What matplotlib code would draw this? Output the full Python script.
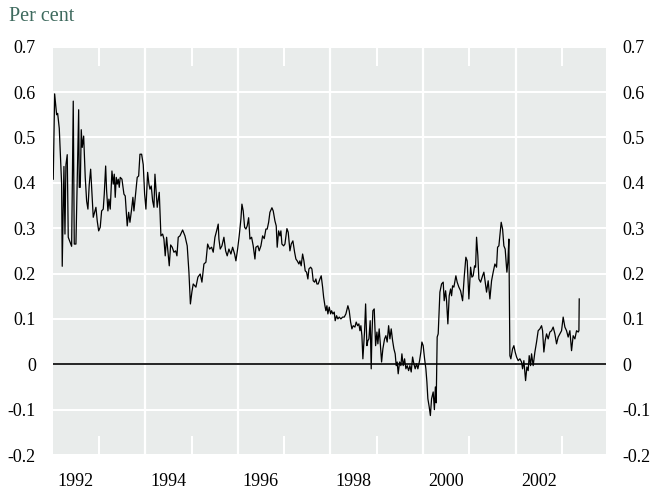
import numpy as np
import matplotlib
matplotlib.use('Agg')
import matplotlib.pyplot as plt

plt.rcParams['font.family'] = ['Liberation Serif', 'DejaVu Serif']

# spread, per cent (time in decimal years)
t = [1992.013, 1992.043, 1992.086, 1992.108, 1992.143, 1992.194, 1992.207, 1992.244, 1992.266, 1992.287,
     1992.315, 1992.337, 1992.374, 1992.410, 1992.445, 1992.467, 1992.503, 1992.562, 1992.575, 1992.596,
     1992.618, 1992.639, 1992.670, 1992.704, 1992.734, 1992.762, 1992.791, 1992.821, 1992.849, 1992.877,
     1992.907, 1992.935, 1992.963, 1992.994, 1993.028, 1993.058, 1993.093, 1993.115, 1993.145, 1993.166,
     1993.194, 1993.216, 1993.244, 1993.281, 1993.309, 1993.331, 1993.352, 1993.374, 1993.395, 1993.417,
     1993.439, 1993.460, 1993.497, 1993.540, 1993.568, 1993.611, 1993.642, 1993.670, 1993.706, 1993.734,
     1993.756, 1993.784, 1993.827, 1993.858, 1993.886, 1993.922, 1993.957, 1993.987, 1994.015, 1994.052,
     1994.080, 1994.102, 1994.130, 1994.160, 1994.188, 1994.210, 1994.259, 1994.303, 1994.339, 1994.376,
     1994.404, 1994.432, 1994.462, 1994.490, 1994.519, 1994.549, 1994.583, 1994.620, 1994.657, 1994.685,
     1994.713, 1994.750, 1994.808, 1994.858, 1994.907, 1994.944, 1994.976, 1995.009, 1995.037, 1995.095,
     1995.138, 1995.188, 1995.225, 1995.268, 1995.311, 1995.348, 1995.391, 1995.434, 1995.469, 1995.506,
     1995.542, 1995.577, 1995.592, 1995.620, 1995.657, 1995.700, 1995.737, 1995.771, 1995.808, 1995.851,
     1995.888, 1995.931, 1995.959, 1995.996, 1996.030, 1996.067, 1996.089, 1996.117, 1996.147, 1996.175,
     1996.203, 1996.234, 1996.262, 1996.298, 1996.333, 1996.370, 1996.391, 1996.434, 1996.462, 1996.499,
     1996.536, 1996.571, 1996.607, 1996.635, 1996.666, 1996.694, 1996.737, 1996.765, 1996.802, 1996.830,
     1996.851, 1996.882, 1996.910, 1996.931, 1996.953, 1996.990, 1997.018, 1997.061, 1997.089, 1997.126,
     1997.154, 1997.190, 1997.227, 1997.255, 1997.283, 1997.320, 1997.342, 1997.369, 1997.400, 1997.428,
     1997.456, 1997.486, 1997.514, 1997.536, 1997.573, 1997.601, 1997.629, 1997.659, 1997.687, 1997.709,
     1997.737, 1997.774, 1997.802, 1997.832, 1997.854, 1997.882, 1997.903, 1997.925, 1997.946, 1997.975,
     1998.005, 1998.026, 1998.054, 1998.083, 1998.104, 1998.134, 1998.162, 1998.191, 1998.227, 1998.264,
     1998.299, 1998.335, 1998.378, 1998.407, 1998.437, 1998.465, 1998.493, 1998.530, 1998.558, 1998.588,
     1998.616, 1998.638, 1998.659, 1998.681, 1998.702, 1998.739, 1998.761, 1998.789, 1998.810, 1998.832,
     1998.860, 1998.882, 1998.897, 1998.918, 1998.947, 1998.977, 1999.005, 1999.026, 1999.054, 1999.076,
     1999.106, 1999.134, 1999.171, 1999.199, 1999.227, 1999.258, 1999.286, 1999.314, 1999.344, 1999.372,
     1999.400, 1999.422, 1999.443, 1999.465, 1999.495, 1999.523, 1999.545, 1999.573, 1999.603, 1999.631,
     1999.659, 1999.690, 1999.718, 1999.746, 1999.776, 1999.804, 1999.832, 1999.862, 1999.890, 1999.927,
     1999.955, 1999.977, 2000.005, 2000.035, 2000.063, 2000.085, 2000.106, 2000.135, 2000.160, 2000.186,
     2000.221, 2000.247, 2000.268, 2000.286, 2000.307, 2000.329, 2000.366, 2000.402, 2000.437, 2000.459,
     2000.489, 2000.510, 2000.538, 2000.567, 2000.597, 2000.618, 2000.640, 2000.668, 2000.711, 2000.739,
     2000.776, 2000.813, 2000.856, 2000.891, 2000.927, 2000.955, 2000.992, 2001.029, 2001.057, 2001.085,
     2001.115, 2001.137, 2001.158, 2001.186, 2001.208, 2001.245, 2001.288, 2001.316, 2001.344, 2001.374,
     2001.409, 2001.446, 2001.482, 2001.517, 2001.554, 2001.590, 2001.612, 2001.640, 2001.668, 2001.690,
     2001.720, 2001.748, 2001.776, 2001.791, 2001.813, 2001.834, 2001.856, 2001.878, 2001.899, 2001.936,
     2001.964, 2001.992, 2002.022, 2002.057, 2002.094, 2002.130, 2002.152, 2002.180, 2002.202, 2002.217,
     2002.245, 2002.273, 2002.295, 2002.325, 2002.346, 2002.381, 2002.418, 2002.454, 2002.489, 2002.526,
     2002.562, 2002.584, 2002.612, 2002.640, 2002.670, 2002.705, 2002.742, 2002.778, 2002.813, 2002.850,
     2002.886, 2002.921, 2002.958, 2002.994, 2003.029, 2003.066, 2003.102, 2003.137, 2003.174, 2003.210,
     2003.245, 2003.282, 2003.318, 2003.354, 2003.369, 2003.376]

spread = [0.408, 0.596, 0.55, 0.553, 0.52, 0.397, 0.216, 0.436, 0.287, 0.44,
          0.462, 0.28, 0.27, 0.26, 0.58, 0.265, 0.265, 0.561, 0.39, 0.39,
          0.517, 0.478, 0.503, 0.412, 0.36, 0.342, 0.397, 0.43, 0.375, 0.324,
          0.335, 0.346, 0.316, 0.294, 0.302, 0.338, 0.342, 0.375, 0.437, 0.382,
          0.338, 0.364, 0.342, 0.426, 0.397, 0.419, 0.368, 0.412, 0.397, 0.408,
          0.39, 0.412, 0.408, 0.375, 0.371, 0.305, 0.335, 0.313, 0.342, 0.368,
          0.338, 0.368, 0.412, 0.415, 0.463, 0.463, 0.44, 0.375, 0.342, 0.423,
          0.397, 0.386, 0.393, 0.36, 0.346, 0.419, 0.346, 0.379, 0.283, 0.287,
          0.276, 0.239, 0.28, 0.25, 0.217, 0.263, 0.258, 0.247, 0.25, 0.239,
          0.28, 0.283, 0.296, 0.283, 0.261, 0.203, 0.133, 0.16, 0.177, 0.17,
          0.192, 0.199, 0.181, 0.221, 0.225, 0.265, 0.254, 0.258, 0.247, 0.28,
          0.294, 0.309, 0.276, 0.254, 0.261, 0.28, 0.25, 0.239, 0.254, 0.243,
          0.258, 0.243, 0.228, 0.254, 0.283, 0.32, 0.353, 0.338, 0.302, 0.298,
          0.305, 0.323, 0.276, 0.28, 0.261, 0.232, 0.258, 0.261, 0.25, 0.261,
          0.283, 0.277, 0.298, 0.298, 0.313, 0.335, 0.345, 0.338, 0.316, 0.305,
          0.258, 0.294, 0.283, 0.294, 0.265, 0.261, 0.265, 0.299, 0.291, 0.25,
          0.265, 0.272, 0.247, 0.232, 0.228, 0.221, 0.228, 0.217, 0.243, 0.228,
          0.206, 0.203, 0.188, 0.21, 0.214, 0.21, 0.184, 0.181, 0.188, 0.177,
          0.177, 0.188, 0.195, 0.17, 0.148, 0.129, 0.118, 0.129, 0.111, 0.126,
          0.111, 0.118, 0.111, 0.115, 0.096, 0.107, 0.1, 0.104, 0.1, 0.104,
          0.104, 0.111, 0.129, 0.118, 0.093, 0.078, 0.085, 0.082, 0.093, 0.085,
          0.089, 0.074, 0.085, 0.063, 0.012, 0.074, 0.133, 0.041, 0.052, 0.056,
          0.096, -0.01, 0.063, 0.118, 0.122, 0.041, 0.071, 0.045, 0.078, 0.049,
          0.005, 0.034, 0.056, 0.063, 0.049, 0.085, 0.056, 0.078, 0.052, 0.034,
          0.023, -0.003, 0.005, -0.021, 0.005, -0.003, 0.023, -0.003, 0.012, -0.01,
          -0.003, -0.014, -0.003, -0.017, 0.016, 0.001, -0.01, 0.001, -0.01, 0.008,
          0.027, 0.049, 0.041, 0.012, -0.01, -0.039, -0.076, -0.094, -0.113, -0.076,
          -0.061, -0.1, -0.05, -0.085, 0.06, 0.067, 0.159, 0.177, 0.181, 0.14,
          0.162, 0.14, 0.089, 0.151, 0.166, 0.151, 0.173, 0.17, 0.195, 0.181,
          0.17, 0.162, 0.14, 0.192, 0.236, 0.228, 0.144, 0.214, 0.192, 0.195,
          0.217, 0.214, 0.28, 0.239, 0.188, 0.181, 0.195, 0.203, 0.181, 0.159,
          0.184, 0.144, 0.184, 0.203, 0.221, 0.214, 0.258, 0.261, 0.291, 0.313,
          0.298, 0.261, 0.254, 0.232, 0.203, 0.225, 0.276, 0.019, 0.012, 0.034,
          0.041, 0.027, 0.016, 0.008, 0.012, 0.005, -0.01, 0.008, -0.017, -0.036,
          -0.006, -0.014, 0.019, -0.003, 0.023, -0.003, 0.027, 0.049, 0.074, 0.078,
          0.085, 0.074, 0.027, 0.052, 0.067, 0.056, 0.071, 0.074, 0.082, 0.067,
          0.045, 0.06, 0.067, 0.074, 0.104, 0.082, 0.074, 0.06, 0.074, 0.03,
          0.063, 0.056, 0.074, 0.071, 0.074, 0.144]

year_labels = ['1992', '1994', '1996', '1998', '2000', '2002']
label_pos = [1992.5, 1994.5, 1996.5, 1998.5, 2000.5, 2002.5]
grid_years = [1994, 1996, 1998, 2000, 2002]
odd_years = [1993, 1995, 1997, 1999, 2001, 2003]
y_ticks = [0.7, 0.6, 0.5, 0.4, 0.3, 0.2, 0.1, 0, -0.1, -0.2]
y_labels = ['0.7', '0.6', '0.5', '0.4', '0.3', '0.2', '0.1', '0', '-0.1', '-0.2']

fig = plt.figure(figsize=(6.5, 4.91), dpi=100)
ax = fig.add_axes([0.081, 0.0733, 0.851, 0.8316])
ax.set_facecolor('#e9eceb')
for s in ax.spines.values():
    s.set_visible(False)

ax.set_yticks(y_ticks)
ax.set_yticklabels(y_labels)
ax.grid(axis='y', color='white', lw=1.5, zorder=1)
ax.set_axisbelow(True)
for g in grid_years:
    ax.axvline(g, color='white', lw=1.6, zorder=1)
ax.axhline(0, color='black', lw=1.2, zorder=2)

ax.plot(t, spread, color='black', lw=0.9, zorder=3)

ax.set_xlim(1992, 2003.95)
ax.set_ylim(-0.2, 0.7)
ax.set_xticks(label_pos)
ax.set_xticklabels(year_labels)
ax.set_xticks(odd_years, minor=True)
ax.tick_params(axis='x', which='major', length=0, pad=13, labelsize=13)
ax.tick_params(axis='x', which='minor', direction='in', length=13.5, width=1.5,
               color='white', top=True, bottom=True)
ax.tick_params(axis='y', which='major', length=0, pad=12, labelsize=13,
               left=True, right=True, labelleft=True, labelright=True)

fig.text(0.014, 0.966, 'Per cent', fontsize=14.5, color='#3e6a5e', va='center', ha='left')

plt.savefig('out.png', dpi=100)
